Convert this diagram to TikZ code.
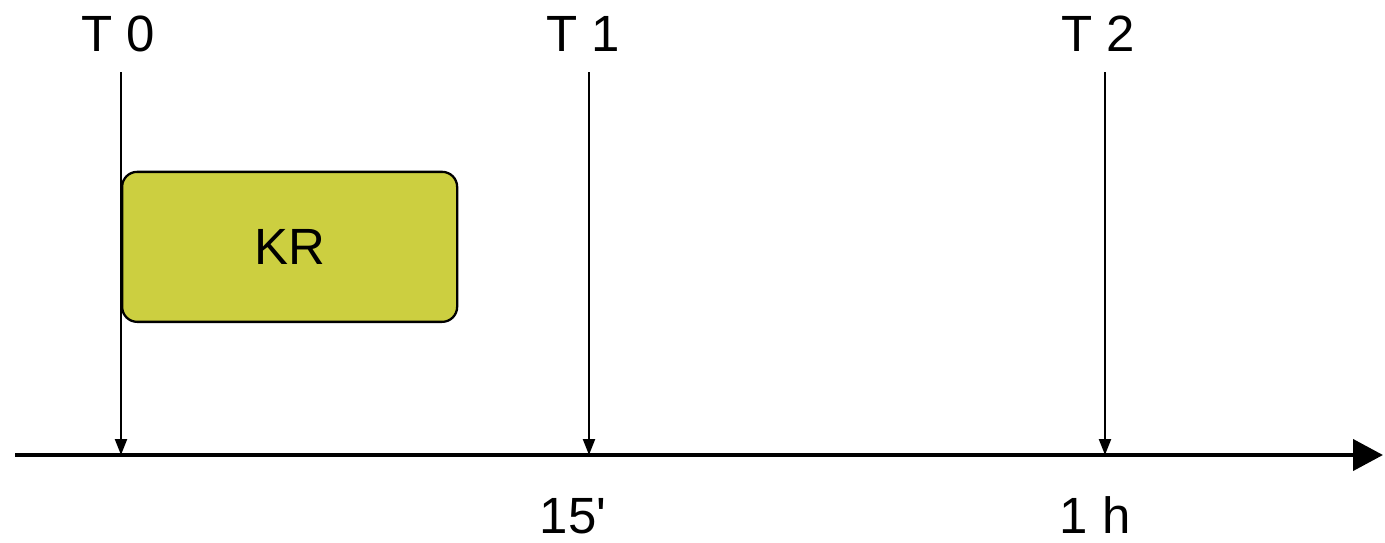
\documentclass[tikz,border=0pt]{standalone}
\usepackage{fontspec}
\setmainfont{Liberation Sans}
\usetikzlibrary{arrows.meta,positioning}
\definecolor{krfill}{RGB}{204,207,64}

\begin{document}
\begin{tikzpicture}[font=\fontsize{29}{34}\selectfont,
  lbl/.style={inner sep=0pt,text height=0.74cm,text depth=0pt},
  tick/.style={line width=1.3pt,-{Triangle[length=0.32cm,width=0.24cm]},shorten <=0.41cm},
  axis/.style={line width=2.4pt,-{Triangle[length=0.6cm,width=0.62cm]}},
  phase/.style={draw,line width=1.3pt,rounded corners=0.3cm,fill=krfill,
                minimum width=6.7cm,minimum height=3.0cm,anchor=south west}]
  \useasboundingbox (0,0) rectangle (27.7,10.84);

  % ---------- time axis ----------
  \coordinate (start) at (0.3,1.74);
  \coordinate (end) at (27.66,1.74);
  \coordinate (a0) at (2.42,1.74);
  \coordinate (a1) at (11.78,1.74);
  \coordinate (a2) at (22.1,1.74);
  \draw[axis] (start) -- (end);

  % ---------- phase ----------
  \node[phase] (kr) at (2.42,4.38) {KR};

  % ---------- time points ----------
  \node[lbl] (t0) at (2.36,9.81) [anchor=south] {T 0};
  \node[lbl] (t1) at (11.66,9.81) [anchor=south] {T 1};
  \node[lbl] (t2) at (21.96,9.81) [anchor=south] {T 2};
  \draw[tick] (t0.south -| a0) -- (a0);
  \draw[tick] (t1.south -| a1) -- (a1);
  \draw[tick] (t2.south -| a2) -- (a2);

  % ---------- durations ----------
  \node[lbl,anchor=south] (d1) at (11.46,0.17) {15\textquotesingle};
  \node[lbl,anchor=south] (d2) at (21.9,0.17) {1 h};
\end{tikzpicture}
\end{document}
